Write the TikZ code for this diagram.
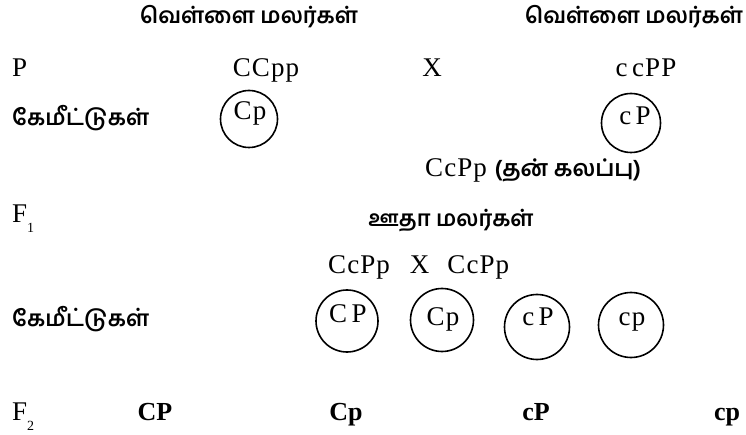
\documentclass[tikz,border=0pt]{standalone}
\usepackage{fontspec}
\setmainfont{Liberation Serif}
\newfontfamily\tamilfont[Script=Tamil]{Hind Madurai}
\newcommand{\gensub}[1]{\raisebox{-10pt}{\fontsize{14}{14}\selectfont #1}}
\begin{document}
\begin{tikzpicture}[x=1pt,y=-1pt,
    every node/.style={inner sep=0pt},
    gen/.style={font=\fontsize{27}{31}\selectfont\addfontfeature{LetterSpace=4}},
    genbold/.style={font=\bfseries\fontsize{26}{30}\selectfont},
    tam/.style={font=\tamilfont\bfseries\fontsize{22.2}{26}\selectfont},
    gamete/.style={circle,draw,line width=1.6pt}]
    \useasboundingbox (0,0) rectangle (746,435);
    % parents
    \node[tam,anchor=base] (white1) at (249,24) {வெள்ளை மலர்கள்};
    \node[tam,anchor=base] (white2) at (634,24) {வெள்ளை மலர்கள்};
    \node[gen,anchor=base west] (P) at (12,77) {P};
    \node[gen,anchor=base] (CCpp) at (266,77) {CCpp};
    \node[gen,anchor=base] (cross1) at (432,77) {X};
    \node[gen,anchor=base] (ccPP) at (646,77) {c\,cPP};
    \node[tam,anchor=base west] (gam1) at (12,126) {கேமீட்டுகள்};
    \node[gamete,minimum size=57pt] (g1) at (249,119) {};
    \node[gen,anchor=base] (g1t) at (250,120) {Cp};
    \node[gamete,minimum size=59pt] (g2) at (631,123) {};
    \node[gen,anchor=base] (g2t) at (635,125) {c\,P};
    \node[anchor=base west] (F1cross) at (425,177)
        {\fontsize{27}{31}\selectfont\addfontfeature{LetterSpace=4}CcPp
         {\tamilfont\bfseries\fontsize{22.8}{26}\selectfont(தன் கலப்பு)}};
    % F1
    \node[gen,anchor=base west] (F1) at (12,223) {F\gensub{1}};
    \node[tam,anchor=base] (violet) at (451,227) {ஊதா மலர்கள்};
    \node[gen,anchor=base west] (selfed) at (328,273) {CcPp\hspace{20pt}X\hspace{18pt}CcPp};
    \node[tam,anchor=base west] (gam2) at (12,326) {கேமீட்டுகள்};
    \node[gamete,minimum size=62pt] (h1) at (347,321) {};
    \node[gen,anchor=base] (h1t) at (348,322) {C\,P};
    \node[gamete,minimum size=63pt] (h2) at (442,320) {};
    \node[gen,anchor=base] (h2t) at (443,325) {Cp};
    \node[gamete,minimum size=65pt] (h3) at (537,327) {};
    \node[gen,anchor=base] (h3t) at (538,325) {c\,P};
    \node[gamete,minimum size=65pt] (h4) at (631,325) {};
    \node[gen,anchor=base] (h4t) at (632,325) {cp};
    % F2
    \node[gen,anchor=base west] (F2) at (12,420) {F\gensub{2}};
    \node[genbold,anchor=base] (f1) at (155,420) {CP};
    \node[genbold,anchor=base] (f2) at (346,420) {Cp};
    \node[genbold,anchor=base] (f3) at (536,420) {cP};
    \node[genbold,anchor=base] (f4) at (727,420) {cp};
\end{tikzpicture}
\end{document}
